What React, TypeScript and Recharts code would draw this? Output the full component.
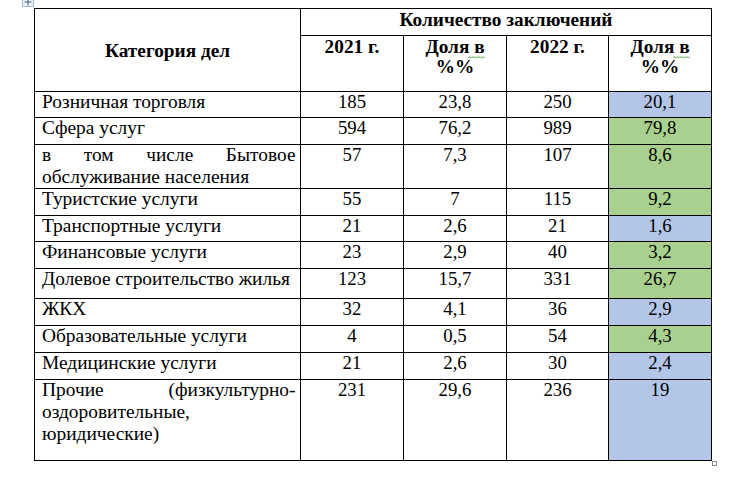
import React from 'react';
import { ComposedChart, XAxis, YAxis, ReferenceArea } from 'recharts';

// ---------------- data ----------------
const headerCategory = 'Категория дел';
const headerGroup = 'Количество заключений';
const columnHeaders: string[][] = [['2021 г.'], ['Доля в', '%%'], ['2022 г.'], ['Доля в', '%%']];

const categories = [
  'Розничная торговля',
  'Сфера услуг',
  'в том числе Бытовое обслуживание населения',
  'Туристские услуги',
  'Транспортные услуги',
  'Финансовые услуги',
  'Долевое строительство жилья',
  'ЖКХ',
  'Образовательные услуги',
  'Медицинские услуги',
  'Прочие (физкультурно-оздоровительные, юридические)',
];
const count2021 = [185, 594, 57, 55, 21, 23, 123, 32, 4, 21, 231];
const share2021 = [23.8, 76.2, 7.3, 7, 2.6, 2.9, 15.7, 4.1, 0.5, 2.6, 29.6];
const count2022 = [250, 989, 107, 115, 21, 40, 331, 36, 54, 30, 236];
const share2022 = [20.1, 79.8, 8.6, 9.2, 1.6, 3.2, 26.7, 2.9, 4.3, 2.4, 19];

// ---------------- layout ----------------
const W = 731;
const H = 477;
const COL_X = [34, 300, 403, 506, 608, 711];
const HEAD_Y = [8, 35, 91];
const ROW_Y = [91, 117, 144, 188, 215, 241, 268, 298, 325, 352, 379, 460];
const LABEL_LINES: Record<number, string[]> = {
  2: ['в том числе Бытовое', 'обслуживание населения'],
  10: ['Прочие (физкультурно-', 'оздоровительные,', 'юридические)'],
};
const UP_FILL = '#A9D08E';
const DOWN_FILL = '#B4C6E7';
const FONT_FAMILY = '"Liberation Serif", "Times New Roman", Tinos';
const LABEL_SIZE = 19.4;
const NUM_SIZE = 18.8;
const HEAD_SIZE = 19.3;
const PAD_L = 7.5;
const PAD_R = 5;
const BODY_BASE = 16.8;
const BODY_LH = 22;

const fmt = (v: number) => String(v).replace('.', ',');

let ctx: CanvasRenderingContext2D | null = null;
function textWidth(s: string, bold: boolean, size: number): number {
  if (!ctx) {
    const c = document.createElement('canvas');
    ctx = c.getContext('2d');
  }
  if (!ctx) return s.length * size * 0.5;
  ctx.font = `${bold ? 'bold ' : ''}${size}px "Liberation Serif"`;
  return ctx.measureText(s).width;
}

type CellSpec = {
  key: string;
  x0: number;
  x1: number;
  y0: number;
  y1: number;
  lines: string[];
  align: 'left' | 'center';
  justify?: boolean;
  bold?: boolean;
  size: number;
  fill?: string;
  baseline: number;
  lineHeight: number;
  wavy?: boolean;
};

const cells: CellSpec[] = [];

cells.push({
  key: 'hcat', x0: COL_X[0], x1: COL_X[1], y0: HEAD_Y[0], y1: HEAD_Y[2],
  lines: [headerCategory], align: 'center', bold: true, size: HEAD_SIZE, baseline: 48, lineHeight: 21,
});
cells.push({
  key: 'hgroup', x0: COL_X[1], x1: COL_X[5], y0: HEAD_Y[0], y1: HEAD_Y[1],
  lines: [headerGroup], align: 'center', bold: true, size: HEAD_SIZE, baseline: 17.5, lineHeight: 21,
});
columnHeaders.forEach((lines, i) => {
  cells.push({
    key: `hcol${i}`, x0: COL_X[i + 1], x1: COL_X[i + 2], y0: HEAD_Y[1], y1: HEAD_Y[2],
    lines, align: 'center', bold: true, size: HEAD_SIZE, baseline: 17, lineHeight: 20.5, wavy: lines.length > 1,
  });
});

categories.forEach((cat, r) => {
  const y0 = ROW_Y[r];
  const y1 = ROW_Y[r + 1];
  const labelLines = LABEL_LINES[r] || [cat];
  cells.push({
    key: `l${r}`, x0: COL_X[0], x1: COL_X[1], y0, y1, lines: labelLines, size: LABEL_SIZE,
    align: 'left', justify: labelLines.length > 1, baseline: BODY_BASE, lineHeight: BODY_LH,
  });
  const vals = [String(count2021[r]), fmt(share2021[r]), String(count2022[r]), fmt(share2022[r])];
  vals.forEach((v, c) => {
    cells.push({
      key: `v${r}_${c}`, x0: COL_X[c + 1], x1: COL_X[c + 2], y0, y1, lines: [v], size: NUM_SIZE,
      align: 'center', baseline: BODY_BASE, lineHeight: BODY_LH,
      fill: c === 3 ? (share2022[r] >= share2021[r] ? UP_FILL : DOWN_FILL) : undefined,
    });
  });
});

function wavyPath(xa: number, xb: number, y: number): string {
  let d = `M${xa},${y}`;
  let up = true;
  for (let x = xa + 1.5; x <= xb; x += 1.5) {
    d += ` L${x},${up ? y - 1 : y + 0.6}`;
    up = !up;
  }
  return d;
}

const makeShape = (cell: CellSpec) => (props: any) => {
  const { x, y, width, height } = props;
  const size = cell.size;
  const weight = cell.bold ? 'bold' : 'normal';
  const common = {
    fontFamily: FONT_FAMILY,
    fontSize: size,
    fontWeight: weight as any,
    fill: '#000',
  };
  const texts: React.ReactNode[] = [];
  cell.lines.forEach((line, li) => {
    const by = y + cell.baseline + li * cell.lineHeight;
    if (cell.align === 'center') {
      const cx = x + width / 2;
      texts.push(
        <text key={`t${li}`} x={cx} y={by} textAnchor="middle" {...common}>{line}</text>
      );
      if (cell.wavy && li === 0) {
        const w = textWidth(line, !!cell.bold, size);
        const end = cx + w / 2;
        const start = end - textWidth(' в', !!cell.bold, size);
        texts.push(
          <path key="wavy" d={wavyPath(start - 1, end + 1, by + 5)} stroke="#4f9a3c" strokeWidth={0.9} fill="none" />
        );
      }
    } else {
      const left = x + PAD_L;
      const right = x + width - PAD_R;
      const words = line.split(' ');
      const isLast = li === cell.lines.length - 1;
      if (cell.justify && !isLast && words.length > 1) {
        const ws = words.map((wd) => textWidth(wd, !!cell.bold, size));
        const sum = ws.reduce((a, b) => a + b, 0);
        const gap = (right - left - sum) / (words.length - 1);
        let cx = left;
        words.forEach((wd, wi) => {
          if (wi === words.length - 1) {
            texts.push(
              <text key={`t${li}_${wi}`} x={right} y={by} textAnchor="end" {...common}>{wd}</text>
            );
          } else {
            texts.push(
              <text key={`t${li}_${wi}`} x={cx} y={by} {...common}>{wd}</text>
            );
          }
          cx += ws[wi] + gap;
        });
      } else {
        texts.push(
          <text key={`t${li}`} x={left} y={by} {...common}>{line}</text>
        );
      }
    }
  });
  return (
    <g>
      <rect x={x} y={y} width={width} height={height} fill={cell.fill || 'none'} stroke="#000" strokeWidth={1} />
      {texts}
    </g>
  );
};

const moveHandle = (props: any) => {
  const { x, y, width, height } = props;
  const cx = x + width / 2;
  const cy = y + height / 2 + 1;
  return (
    <g>
      <rect x={x} y={y} width={width} height={height} fill="#eef2f8" stroke="#a8b4c8" strokeWidth={1} />
      <path d={`M${cx - 3.5},${cy} L${cx + 3.5},${cy} M${cx},${cy - 3.5} L${cx},${cy + 3.5}`} stroke="#3d5a8a" strokeWidth={1} />
    </g>
  );
};

const resizeHandle = (props: any) => {
  const { x, y, width, height } = props;
  return <rect x={x} y={y} width={width} height={height} fill="#fff" stroke="#8c8c8c" strokeWidth={1} />;
};

const chartData = categories.map((c, i) => ({
  category: c,
  count2021: count2021[i],
  share2021: share2021[i],
  count2022: count2022[i],
  share2022: share2022[i],
}));

export default function App() {
  return (
    <div style={{ position: 'absolute', left: 0, top: 0, width: W, height: H, background: '#fff' }}>
      <ComposedChart width={W} height={H} data={chartData} margin={{ top: 0, right: 0, bottom: 0, left: 0 }}>
        <XAxis type="number" dataKey="count2021" domain={[0, W]} allowDataOverflow hide height={0} />
        <YAxis type="number" domain={[0, H]} allowDataOverflow reversed hide width={0} />
        <ReferenceArea x1={22.5} x2={33.5} y1={-4.5} y2={6.5} ifOverflow="visible" shape={moveHandle} />
        {cells.map((cell) => (
          <ReferenceArea
            key={cell.key}
            x1={cell.x0 + 0.5}
            x2={cell.x1 + 0.5}
            y1={cell.y0 + 0.5}
            y2={cell.y1 + 0.5}
            ifOverflow="visible"
            shape={makeShape(cell)}
          />
        ))}
        <ReferenceArea x1={712.5} x2={716.5} y1={461.5} y2={465.5} ifOverflow="visible" shape={resizeHandle} />
      </ComposedChart>
    </div>
  );
}
